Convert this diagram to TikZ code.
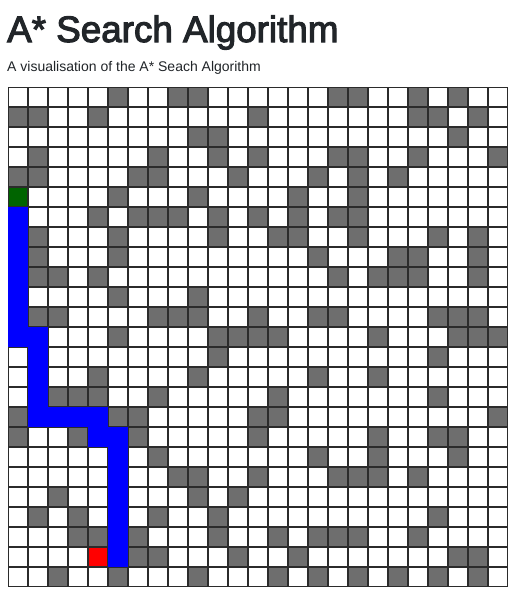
\documentclass[tikz,border=0pt]{standalone}
\usepackage{fontspec}
\setmainfont{Liberation Sans}
\newfontfamily\titlefont{Liberation Sans}[FakeBold=3]
\usepackage{tikz}
\usetikzlibrary{positioning}
\usepackage{xcolor}
\definecolor{inkgray}{HTML}{212529}
\definecolor{wallgray}{HTML}{6E6E6E}
\definecolor{edgegray}{HTML}{2B2B2B}
\definecolor{startgreen}{HTML}{006400}
\newcommand{\Cell}[2]{({8+20*(#1)+0.6},{87+20*(#2)+0.6}) rectangle ++(18.8,18.8)}

\begin{document}
\begin{tikzpicture}[
    x=1pt, y=-1pt,
    cell/.style={draw=edgegray, line width=1.2pt, fill=white},
    wall/.style={cell, fill=wallgray},
    route/.style={draw=blue, line width=1.2pt, fill=blue},
    startcell/.style={cell, fill=startgreen},
    goalcell/.style={cell, fill=red}
]
\useasboundingbox (0,0) rectangle (519,598);
\fill[white] (0,0) rectangle (519,598);

% title
\node[anchor=base west, inner sep=0pt, text=inkgray, font=\titlefont\fontsize{36.8}{40}\selectfont] (title) at (7,42) {A* Search Algorithm};
\node[anchor=base west, inner sep=0pt, text=inkgray, font=\fontsize{14}{16}\selectfont] (subtitle) at (7,71.5) {A visualisation of the A* Seach Algorithm};

% empty grid
\foreach \r in {0,...,24}
  \foreach \c in {0,...,24}
    \draw[cell] \Cell{\c}{\r};

% walls
\foreach \r/\cs in {0/{5,8,9,16,17,20,22}, 1/{0,1,4,12,20,21,23}, 2/{9,10,22},
    3/{1,7,10,12,16,17,20,24}, 4/{0,1,6,7,11,15,17,19}, 5/{5,9,14,17},
    6/{4,6,7,8,10,12,14,16,17}, 7/{1,5,10,13,14,17,21,23}, 8/{1,5,15,19,20,23},
    9/{1,2,4,16,18,19,20,23}, 10/{5,9}, 11/{1,2,7,8,9,12,15,16,21,22,23},
    12/{5,10,11,12,13,18,22,23,24}, 13/{10,21}, 14/{4,9,15,18},
    15/{2,3,4,7,13,21}, 16/{0,5,6,12,13,24}, 17/{0,3,6,12,18,21,22},
    18/{7,15,18,22}, 19/{8,9,12,16,17,18,20}, 20/{2,9,11}, 21/{1,3,7,10,21},
    22/{3,4,6,10,13,15,16,17,20}, 23/{6,7,11,14,22,23},
    24/{2,5,9,13,15,17,19,21,23}}
  \foreach \c in \cs
    \draw[wall] \Cell{\c}{\r};

% found path
\foreach \c/\r in {0/6,0/7,0/8,0/9,0/10,0/11,0/12,1/12,1/13,1/14,1/15,1/16,
    2/16,3/16,4/16,4/17,5/17,5/18,5/19,5/20,5/21,5/22,5/23}
  \draw[route] \Cell{\c}{\r};

% start and goal
\draw[startcell] \Cell{0}{5};
\draw[goalcell] \Cell{4}{23};

\end{tikzpicture}
\end{document}
